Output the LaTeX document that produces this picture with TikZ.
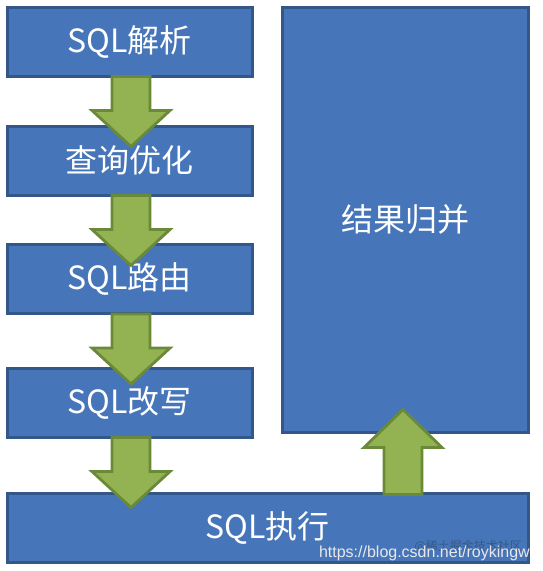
\documentclass[tikz,border=0pt]{standalone}
\usepackage{fontspec}
\newfontfamily\cjk{Noto Sans CJK SC}
\newfontfamily\wmfont{Liberation Sans}
\usetikzlibrary{calc}
\definecolor{boxfill}{HTML}{4676B9}
\definecolor{boxline}{HTML}{34578A}
\definecolor{arrfill}{HTML}{93B352}
\definecolor{arrline}{HTML}{6A8A3A}
\begin{document}
\begin{tikzpicture}[x=1pt,y=-1pt,
  box/.style={draw=boxline, fill=boxfill, line width=3pt, inner sep=0pt,
    text=white, font=\cjk\fontsize{32}{32}\selectfont},
  stepbox/.style={box, minimum width=245pt, minimum height=69pt},
  garrow/.style={draw=arrline, fill=arrfill, line width=2.8pt, line join=miter}]
\useasboundingbox (0,0) rectangle (542,571);
\node[stepbox] (b1) at (129.5,41.5) {SQL解析};
\node[stepbox] (b2) at (129.5,160.5) {查询优化};
\node[stepbox] (b3) at (129.5,279) {SQL路由};
\node[stepbox] (b4) at (129.5,402.5) {SQL改写};
\node[box, minimum width=521pt, minimum height=69pt] (b5) at (267.5,527.5) {SQL执行};
\node[box, minimum width=246pt, minimum height=425pt] (r) at (405,219.5) {结果归并};
\foreach \n in {b1,b2,b3,b4}{
  \draw[garrow] ($(\n.south)+(1.5,-1)$) ++(-19,0) -- ++(0,34) -- ++(-20,0)
    -- ++(39,36) -- ++(39,-36) -- ++(-20,0) -- ++(0,-34) -- cycle;
}
\coordinate (u) at ($(r.south |- b5.north)+(-2,3)$);
\draw[garrow] (u) ++(-19,0) -- ++(0,-47) -- ++(-20,0) -- ++(39,-38)
  -- ++(39,38) -- ++(-20,0) -- ++(0,47) -- cycle;
\node[anchor=south east, inner sep=0pt, text=black, opacity=0.25,
  font=\cjk\fontsize{12}{12}\selectfont] (wm2) at (522,553) {@稀土掘金技术社区};
\node[anchor=south east, inner sep=0pt, text=white!82!gray,
  font=\wmfont\fontsize{16}{16}\selectfont] (wm1) at (530,561) {https://blog.csdn.net/roykingw};
\end{tikzpicture}
\end{document}
